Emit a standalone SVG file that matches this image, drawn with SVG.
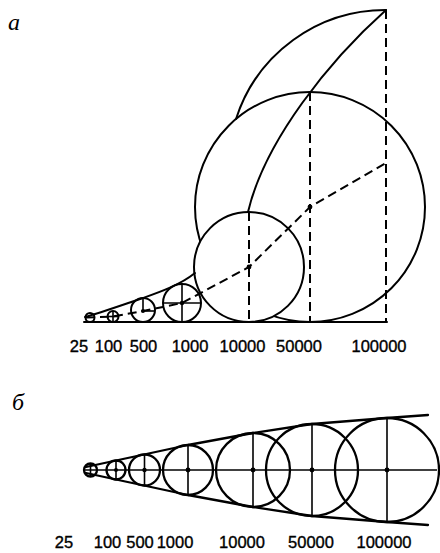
<svg xmlns="http://www.w3.org/2000/svg" width="440" height="553" viewBox="0 0 440 553">
<style>
.ln{fill:none;stroke:#000;stroke-width:2;stroke-linecap:round;stroke-linejoin:round}
.cw{fill:#fff;stroke:#000;stroke-width:2}
.ds{fill:none;stroke:#000;stroke-width:2;stroke-dasharray:9 5}
.thin{fill:none;stroke:#000;stroke-width:1.6}
.b{fill:none;stroke:#000;stroke-width:2.3;stroke-linejoin:round;stroke-linecap:round}
.bt{fill:none;stroke:#000;stroke-width:1.6}
.dot{fill:#000}
.lbl{font-family:"Liberation Sans",Arial,sans-serif;font-size:16.5px;fill:#000;stroke:#000;stroke-width:0.35;text-anchor:middle}
.tag{font-family:"Liberation Serif","Times New Roman",serif;font-style:italic;font-size:24px;fill:#000}
</style>
<g id="panel-a">
  <text class="tag" x="8" y="30">а</text>
  <g id="a-c100000"><path class="ln" d="M386 10 A157 157 0 0 0 236 119"/></g>
  <g id="a-c50000"><circle class="ln" cx="310" cy="207" r="115"/></g>
  <g id="a-c10000"><circle class="cw" cx="249" cy="267" r="55"/></g>
  <g id="a-c1000"><circle class="ln" cx="182" cy="303" r="19"/>
    <line class="thin" x1="163" y1="303" x2="201" y2="303"/><line class="thin" x1="182" y1="284" x2="182" y2="322"/></g>
  <g id="a-c500"><circle class="ln" cx="143" cy="310" r="12"/>
    <line class="thin" x1="143" y1="298" x2="143" y2="311"/><line class="thin" x1="143" y1="311" x2="155" y2="311"/></g>
  <g id="a-c100"><circle class="ln" cx="113" cy="316.5" r="5.5"/>
    <line class="thin" x1="107.5" y1="316.5" x2="118.5" y2="316.5"/><line class="thin" x1="113" y1="311" x2="113" y2="322"/></g>
  <g id="a-c25"><circle class="ln" cx="90" cy="317.5" r="4.5"/></g>
  <g id="a-connectors">
    <line class="ln" x1="84" y1="322" x2="387" y2="322"/>
    <path class="ln" d="M85 317 C100 313 125 304 143 298 C160 292 180 285 195 273"/>
    <path class="ln" d="M386 10 C330 60 265 140 248 212"/>
    <line class="ds" x1="386" y1="10" x2="386" y2="322"/>
    <line class="ds" x1="310" y1="92" x2="310" y2="322"/>
    <line class="ds" x1="249" y1="212" x2="249" y2="322"/>
    <polyline class="ds" points="86,317.5 113,316.5 143,311 182,303 249,267 310,207 386,163"/>
    <circle class="dot" cx="182" cy="303" r="2.2"/>
    <circle class="dot" cx="143" cy="311" r="2"/>
    <circle class="dot" cx="249" cy="267" r="2.4"/>
    <circle class="dot" cx="310" cy="207" r="2.4"/>
  </g>
  <g id="a-labels">
    <text class="lbl" x="79" y="352">25</text>
    <text class="lbl" x="108.5" y="352">100</text>
    <text class="lbl" x="143.5" y="352">500</text>
    <text class="lbl" x="190" y="352">1000</text>
    <text class="lbl" x="242.5" y="352">10000</text>
    <text class="lbl" x="299" y="352">50000</text>
    <text class="lbl" x="379" y="352">100000</text>
  </g>
</g>
<g id="panel-b">
  <text class="tag" x="12" y="410">б</text>
  <g id="b-c25"><circle class="b" cx="90.5" cy="470" r="6.5"/><line class="bt" x1="90.5" y1="463.5" x2="90.5" y2="476.5"/></g>
  <g id="b-c100"><circle class="b" cx="116" cy="470" r="9.5"/><line class="bt" x1="116" y1="460.5" x2="116" y2="479.5"/></g>
  <g id="b-c500"><circle class="b" cx="144.5" cy="470" r="15.5"/><line class="bt" x1="144.5" y1="454.5" x2="144.5" y2="485.5"/></g>
  <g id="b-c1000"><circle class="b" cx="188" cy="470" r="25"/><line class="bt" x1="188" y1="445" x2="188" y2="495"/></g>
  <g id="b-c10000"><circle class="b" cx="253" cy="470" r="37"/><line class="bt" x1="253" y1="433" x2="253" y2="507"/></g>
  <g id="b-c50000"><circle class="b" cx="312" cy="470" r="46"/><line class="bt" x1="312" y1="424" x2="312" y2="516"/></g>
  <g id="b-c100000"><circle class="b" cx="387" cy="470" r="52"/><line class="bt" x1="387" y1="418" x2="387" y2="522"/></g>
  <g id="b-connectors">
    <line class="bt" x1="84" y1="470" x2="437" y2="470"/>
    <polyline class="b" points="86,467 116,460.5 144,454.5 188,445 253,433 312,424 387,418 428,415"/>
    <polyline class="b" points="86,473 116,479.5 144,485.5 188,495 253,507 312,516 387,522 428,525"/>
    <circle class="dot" cx="116" cy="470" r="2"/>
    <circle class="dot" cx="144.5" cy="470" r="2.2"/>
    <circle class="dot" cx="188" cy="470" r="2.4"/>
    <circle class="dot" cx="253" cy="470" r="2.4"/>
    <circle class="dot" cx="312" cy="470" r="2.4"/>
    <circle class="dot" cx="387" cy="470" r="2.4"/>
  </g>
  <g id="b-labels">
    <text class="lbl" x="64" y="548">25</text>
    <text class="lbl" x="107.5" y="548">100</text>
    <text class="lbl" x="140" y="548">500</text>
    <text class="lbl" x="175" y="548">1000</text>
    <text class="lbl" x="242" y="548">10000</text>
    <text class="lbl" x="311" y="548">50000</text>
    <text class="lbl" x="384" y="548">100000</text>
  </g>
</g>
</svg>
